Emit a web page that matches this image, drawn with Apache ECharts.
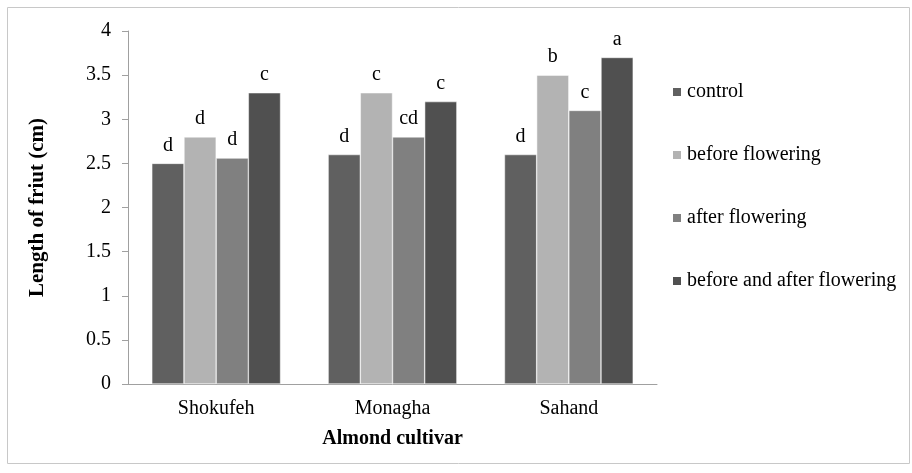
<!DOCTYPE html>
<html><head><meta charset="utf-8">
<script src="https://cdn.jsdelivr.net/npm/echarts@6/dist/echarts.min.js"></script>
<style>html,body{margin:0;padding:0;background:#fff}#c{width:912px;height:473px}</style>
</head><body><div id="c"></div>
<script>
var categories = ['Shokufeh', 'Monagha', 'Sahand'];
var seriesNames = ['control', 'before flowering', 'after flowering', 'before and after flowering'];
var control = [2.5, 2.6, 2.6];
var beforeFlowering = [2.8, 3.3, 3.5];
var afterFlowering = [2.56, 2.8, 3.1];
var beforeAndAfter = [3.3, 3.2, 3.7];
var lettersControl = ['d', 'd', 'd'];
var lettersBefore = ['d', 'c', 'b'];
var lettersAfter = ['d', 'cd', 'c'];
var lettersBoth = ['c', 'c', 'a'];
var yTicks = ['0', '0.5', '1', '1.5', '2', '2.5', '3', '3.5', '4'];

var colors = ['#606060', '#b3b3b3', '#808080', '#505050'];
var values = [control, beforeFlowering, afterFlowering, beforeAndAfter];
var letters = [lettersControl, lettersBefore, lettersAfter, lettersBoth];
var font = 'Liberation Serif';

var chart = echarts.init(document.getElementById('c'));
var series = seriesNames.map(function (n, i) {
  return {
    name: n, type: 'bar', barGap: '0%', barCategoryGap: '27%',
    data: values[i],
    itemStyle: { color: colors[i], borderColor: '#ffffff', borderWidth: 0.5 },
    label: {
      show: true, position: 'top', distance: 8,
      fontFamily: font, fontSize: 20, color: '#000',
      formatter: function (p) { return letters[i][p.dataIndex]; }
    }
  };
});

chart.setOption({
  animation: false,
  textStyle: { fontFamily: font },
  graphic: [{
    type: 'rect', shape: { x: 7.5, y: 7.5, width: 902, height: 456 },
    style: { fill: 'none', stroke: '#c8c8c8', lineWidth: 1 }, silent: true
  }],
  grid: { left: 128, top: 31, right: 255, bottom: 89, containLabel: false },
  legend: {
    orient: 'vertical', left: 666, top: 77, itemGap: 43,
    itemWidth: 10, itemHeight: 10, icon: 'rect',
    textStyle: { fontFamily: font, fontSize: 20, color: '#000' },
    data: seriesNames
  },
  xAxis: {
    type: 'category', data: categories,
    name: 'Almond cultivar', nameLocation: 'middle', nameGap: 45,
    nameTextStyle: { fontFamily: font, fontSize: 20, fontWeight: 'bold', color: '#000' },
    axisLine: { lineStyle: { color: '#a0a0a0', width: 1 } },
    axisTick: { show: false },
    axisLabel: { fontFamily: font, fontSize: 20, color: '#000', margin: 15 }
  },
  yAxis: {
    type: 'value', min: 0, max: 4, interval: 0.5,
    name: 'Length of friut (cm)', nameLocation: 'middle', nameGap: 80, nameRotate: 90,
    nameTextStyle: { fontFamily: font, fontSize: 21, fontWeight: 'bold', color: '#000' },
    axisLine: { show: true, lineStyle: { color: '#a0a0a0', width: 1 } },
    axisTick: { show: true, length: 6, lineStyle: { color: '#a0a0a0' } },
    splitLine: { show: false },
    axisLabel: {
      fontFamily: font, fontSize: 20, color: '#000', margin: 17,
      formatter: function (v) { return yTicks[Math.round(v / 0.5)]; }
    }
  },
  series: series
});
</script>
</body></html>
